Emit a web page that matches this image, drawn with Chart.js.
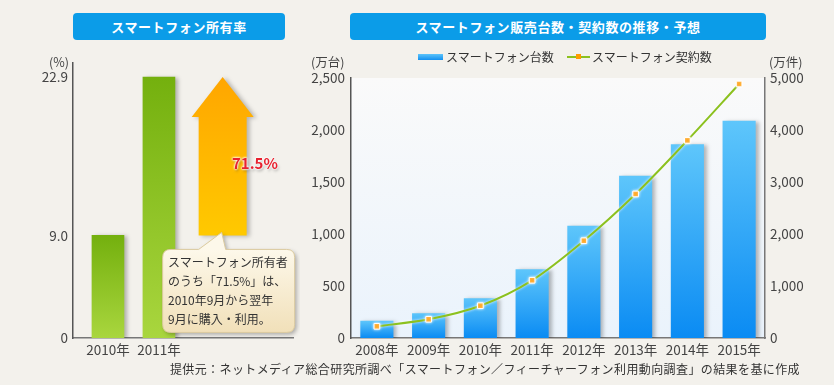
<!DOCTYPE html>
<html lang="ja">
<head>
<meta charset="utf-8">
<script src="https://cdn.jsdelivr.net/npm/chart.js@4.4.0/dist/chart.umd.min.js"></script>
<style>
  html, body { margin:0; padding:0; }
  body { width:834px; height:385px; position:relative; overflow:hidden;
         background:#f3f1ec; font-family:'Noto Sans CJK JP','Noto Sans',sans-serif; color:#333; }
  .banner { position:absolute; height:27px; line-height:27px; background:#0b9ce8; color:#fff;
            border-radius:4px; text-align:center; font-size:13px; font-weight:bold; letter-spacing:0.6px; }
  .abs { position:absolute; white-space:nowrap; }
  canvas { position:absolute; top:0; }
  .unit { font-size:12.5px; color:#444; line-height:14px; }
</style>
</head>
<body>
<div class="banner" style="left:73px;top:13px;width:212px;">スマートフォン所有率</div>
<div class="banner" style="left:350px;top:13px;width:416px;">スマートフォン販売台数・契約数の推移・予想</div>

<canvas id="left" width="300" height="385" style="left:0;"></canvas>
<canvas id="right" width="534" height="385" style="left:300px;"></canvas>

<div class="abs unit" style="left:49px;top:55px;">(%)</div>
<div class="abs unit" style="left:311px;top:55px;">(万台)</div>
<div class="abs unit" style="left:769px;top:55px;">(万件)</div>

<div class="abs" style="left:418px;top:54px;width:25px;height:6px;background:linear-gradient(#5cc4fa,#1390f0);"></div>
<div class="abs" style="left:446px;top:49px;font-size:12px;line-height:16px;color:#333;">スマートフォン台数</div>
<div class="abs" style="left:567px;top:56px;width:23px;height:2px;background:#8cc11f;"></div>
<div class="abs" style="left:576px;top:54px;width:5px;height:5px;background:#ff9c00;"></div>
<div class="abs" style="left:592px;top:49px;font-size:12px;line-height:16px;color:#333;">スマートフォン契約数</div>

<div class="abs" id="pct" style="left:232px;top:153px;font-size:15px;line-height:20px;font-weight:bold;color:#e8212f;
  text-shadow:0 0 2px #fff,0 0 2px #fff,0 0 3px #fff,1px 2px 3px rgba(0,0,0,0.35);"></div>

<div class="abs" style="left:168px;top:252px;font-size:12px;line-height:19px;color:#333;">スマートフォン所有者<br>のうち「71.5%」は、<br>2010年9月から翌年<br>9月に購入・利用。</div>

<div class="abs" style="right:34px;top:361px;font-size:12px;line-height:16px;color:#333;letter-spacing:0.4px;">提供元：ネットメディア総合研究所調べ「スマートフォン／フィーチャーフォン利用動向調査」の結果を基に作成</div>

<script>
// ---- data ----
const ownershipYears = ["2010年", "2011年"];
const ownershipRates = [9.0, 22.9];
const ownershipTicks = [0, 9.0, 22.9];
const increaseLabel = "71.5%";

const salesYears = ["2008年", "2009年", "2010年", "2011年", "2012年", "2013年", "2014年", "2015年"];
const unitsSold = [165, 238, 382, 660, 1080, 1560, 1862, 2089];        // 万台
const contracts = [225, 360, 621, 1110, 1871, 2770, 3800, 4885];        // 万件
const unitTicks = [0, 500, 1000, 1500, 2000, 2500];
const contractTicks = [0, 1000, 2000, 3000, 4000, 5000];

document.getElementById('pct').textContent = increaseLabel;

Chart.defaults.font.family = "'Noto Sans CJK JP','Noto Sans',sans-serif";
Chart.defaults.font.size = 13.5;
Chart.defaults.color = '#444';
Chart.defaults.animation = false;

function vGrad(c, scaleId, top, bottom) {
  const ch = c.chart, s = ch.scales[scaleId];
  if (!s || !c.parsed) return bottom;
  const y0 = s.getPixelForValue(c.parsed.y), y1 = s.getPixelForValue(0);
  if (!isFinite(y0) || !isFinite(y1) || y0 === y1) return bottom;
  const g = ch.ctx.createLinearGradient(0, y0, 0, y1);
  g.addColorStop(0, top); g.addColorStop(1, bottom);
  return g;
}

const shadowPlugin = {
  id: 'shadowPlugin',
  beforeDatasetDraw(chart, args) {
    const ds = chart.data.datasets[args.index];
    const ctx = chart.ctx;
    ctx.save();
    if (ds.type === 'line') {
      ctx.shadowColor = 'rgba(255,255,255,0.9)'; ctx.shadowBlur = 3;
    } else {
      ctx.shadowColor = 'rgba(0,0,0,0.28)'; ctx.shadowBlur = 4;
      ctx.shadowOffsetX = 3; ctx.shadowOffsetY = 1;
    }
  },
  afterDatasetDraw(chart) { chart.ctx.restore(); }
};

const arrowSlot = 3.25;
const arrowPlugin = {
  id: 'arrowPlugin',
  afterDatasetsDraw(chart) {
    const ctx = chart.ctx, xs = chart.scales.x, ys = chart.scales.y;
    const cx = xs.getPixelForValue(arrowSlot);
    const yTop = ys.getPixelForValue(ownershipRates[1]);
    const yBot = ys.getPixelForValue(ownershipRates[0]);
    const sw = 24, hw = 31, hh = 40;
    ctx.save();
    ctx.shadowColor = 'rgba(0,0,0,0.25)'; ctx.shadowBlur = 4; ctx.shadowOffsetX = 3; ctx.shadowOffsetY = 1;
    const g = ctx.createLinearGradient(0, yTop, 0, yBot);
    g.addColorStop(0, '#ffa600'); g.addColorStop(1, '#ffc900');
    ctx.fillStyle = g;
    ctx.beginPath();
    ctx.moveTo(cx, yTop);
    ctx.lineTo(cx + hw, yTop + hh);
    ctx.lineTo(cx + sw, yTop + hh);
    ctx.lineTo(cx + sw, yBot);
    ctx.lineTo(cx - sw, yBot);
    ctx.lineTo(cx - sw, yTop + hh);
    ctx.lineTo(cx - hw, yTop + hh);
    ctx.closePath();
    ctx.fill();
    ctx.restore();

    // callout bubble
    const tx = cx - 1, ty = yBot - 3;
    const L = tx - 59, T = ty + 17, W = 132, H = 83, r = 8;
    ctx.save();
    ctx.shadowColor = 'rgba(0,0,0,0.3)'; ctx.shadowBlur = 4; ctx.shadowOffsetX = 2; ctx.shadowOffsetY = 2;
    const bg = ctx.createLinearGradient(0, T, 0, T + H);
    bg.addColorStop(0, '#fdf8ea'); bg.addColorStop(1, '#f1e0b9');
    ctx.fillStyle = bg;
    ctx.strokeStyle = '#dccb9f'; ctx.lineWidth = 1;
    ctx.beginPath();
    ctx.moveTo(L + r, T);
    ctx.lineTo(tx - 23, T);
    ctx.lineTo(tx, ty);
    ctx.lineTo(tx + 4, T);
    ctx.lineTo(L + W - r, T);
    ctx.quadraticCurveTo(L + W, T, L + W, T + r);
    ctx.lineTo(L + W, T + H - r);
    ctx.quadraticCurveTo(L + W, T + H, L + W - r, T + H);
    ctx.lineTo(L + r, T + H);
    ctx.quadraticCurveTo(L, T + H, L, T + H - r);
    ctx.lineTo(L, T + r);
    ctx.quadraticCurveTo(L, T, L + r, T);
    ctx.closePath();
    ctx.fill();
    ctx.shadowColor = 'transparent';
    ctx.stroke();
    ctx.restore();
  }
};

const plotBgPlugin = {
  id: 'plotBg',
  beforeDraw(chart) {
    const a = chart.chartArea, ctx = chart.ctx;
    const g = ctx.createLinearGradient(0, a.top, 0, a.bottom);
    g.addColorStop(0, '#fafafa'); g.addColorStop(1, '#eaf3fc');
    ctx.save(); ctx.fillStyle = g; ctx.fillRect(a.left, a.top, a.right - a.left, a.bottom - a.top); ctx.restore();
  }
};

// ---- left chart ----
new Chart(document.getElementById('left'), {
  type: 'bar',
  data: {
    datasets: [{
      data: ownershipRates.map((v, i) => ({ x: i + 1, y: v })),
      barThickness: 32,
      backgroundColor: c => vGrad(c, 'y', '#74b00e', '#a9d63e'),
      borderWidth: 0
    }]
  },
  options: {
    responsive: false,
    layout: { padding: { top: 63, left: 0, right: 7, bottom: 22 } },
    plugins: { legend: { display: false }, tooltip: { enabled: false } },
    scales: {
      x: {
        type: 'linear', min: 0.314, max: 4.63, offset: false,
        afterBuildTicks: s => { s.ticks = ownershipYears.map((_, i) => ({ value: i + 1 })); },
        afterFit: s => { s.height = 25; },
        ticks: { callback: v => ownershipYears[v - 1] || '', padding: 4, color: '#444', maxRotation: 0, autoSkip: false },
        grid: { display: false, drawTicks: false, offset: false },
        border: { color: '#777', width: 1.5 }
      },
      y: {
        min: 0, max: 24.13,
        afterBuildTicks: s => { s.ticks = ownershipTicks.map(v => ({ value: v })); },
        afterFit: s => { s.width = 73; },
        ticks: { callback: v => v === 0 ? '0' : Number(v).toFixed(1), padding: 5, color: '#444' },
        grid: { display: false, drawTicks: false },
        border: { color: '#555', width: 1.5 }
      }
    }
  },
  plugins: [shadowPlugin, arrowPlugin]
});

// ---- right chart ----
new Chart(document.getElementById('right'), {
  type: 'bar',
  data: {
    labels: salesYears,
    datasets: [
      {
        type: 'line', label: 'スマートフォン契約数', data: contracts, yAxisID: 'y1', order: 0,
        borderColor: '#8cc11f', borderWidth: 2, cubicInterpolationMode: 'monotone',
        pointStyle: 'rect', pointRadius: 4, pointBackgroundColor: '#ff9900',
        pointBorderColor: '#ffffff', pointBorderWidth: 1
      },
      {
        type: 'bar', label: 'スマートフォン台数', data: unitsSold, yAxisID: 'y', order: 1,
        barPercentage: 0.64, categoryPercentage: 1,
        backgroundColor: c => vGrad(c, 'y', '#5ec6fb', '#0a8bf3'),
        borderWidth: 0
      }
    ]
  },
  options: {
    responsive: false,
    layout: { padding: { top: 78, left: 0, right: 0, bottom: 22 } },
    plugins: { legend: { display: false }, tooltip: { enabled: false } },
    scales: {
      x: {
        offset: true,
        afterFit: s => { s.height = 25; },
        ticks: { padding: 4, color: '#444', maxRotation: 0, autoSkip: false },
        grid: { display: false, drawTicks: false },
        border: { color: '#777', width: 1.5 }
      },
      y: {
        position: 'left', min: 0, max: 2500,
        afterBuildTicks: s => { s.ticks = unitTicks.map(v => ({ value: v })); },
        afterFit: s => { s.width = 51; },
        ticks: { callback: v => Number(v).toLocaleString('en-US'), padding: 6, color: '#444' },
        grid: { display: false, drawTicks: false },
        border: { color: '#555', width: 1.5 }
      },
      y1: {
        position: 'right', min: 0, max: 5000,
        afterBuildTicks: s => { s.ticks = contractTicks.map(v => ({ value: v })); },
        afterFit: s => { s.width = 69; },
        ticks: { callback: v => Number(v).toLocaleString('en-US'), padding: 5, color: '#444' },
        grid: { display: false, drawTicks: false },
        border: { color: '#777', width: 1.5 }
      }
    }
  },
  plugins: [plotBgPlugin, shadowPlugin]
});
</script>
</body>
</html>
